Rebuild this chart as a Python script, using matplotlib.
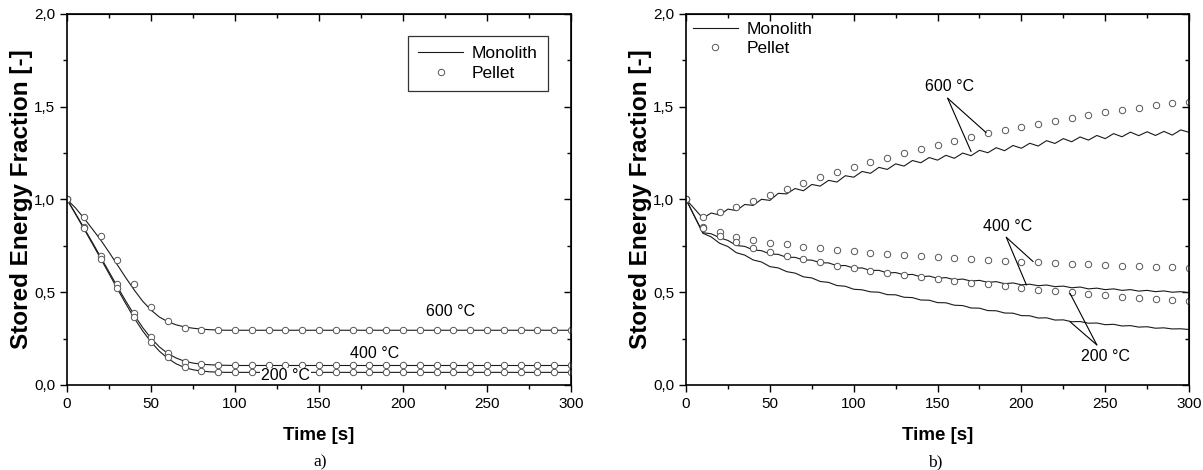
import matplotlib
matplotlib.use('Agg')
import matplotlib.pyplot as plt
from matplotlib.ticker import MultipleLocator, FuncFormatter
import numpy as np

plt.rcParams['font.family'] = ['Liberation Sans', 'DejaVu Sans']

# ---- data: panel a) -------------------------------------------------
t_pel = np.arange(0, 301, 10)
pel_a_600 = [1.0, 0.907, 0.803, 0.674, 0.543, 0.422, 0.345, 0.309, 0.296, 0.295,
             0.295, 0.295, 0.295, 0.295, 0.295, 0.295, 0.295, 0.295, 0.295, 0.295,
             0.295, 0.295, 0.295, 0.295, 0.295, 0.295, 0.295, 0.295, 0.295, 0.295, 0.295]
pel_a_400 = [1.0, 0.853, 0.695, 0.543, 0.386, 0.260, 0.171, 0.126, 0.113, 0.108,
             0.106, 0.105, 0.105, 0.105, 0.105, 0.105, 0.105, 0.105, 0.105, 0.105,
             0.105, 0.105, 0.105, 0.105, 0.105, 0.105, 0.105, 0.105, 0.105, 0.105, 0.105]
pel_a_200 = [1.0, 0.848, 0.681, 0.525, 0.365, 0.233, 0.153, 0.099, 0.077, 0.072,
             0.069, 0.068, 0.068, 0.068, 0.068, 0.068, 0.068, 0.068, 0.068, 0.068,
             0.068, 0.068, 0.068, 0.068, 0.068, 0.068, 0.068, 0.068, 0.068, 0.068, 0.068]

t_mono_a = [0, 5, 10, 15, 20, 25, 30, 35, 40, 45, 50, 55, 60, 65, 70, 75, 80, 85, 90, 95, 100, 300]
mono_a_600 = [1.0, 0.955, 0.900, 0.842, 0.782, 0.716, 0.647, 0.578, 0.512, 0.452, 0.404,
              0.366, 0.341, 0.324, 0.313, 0.306, 0.301, 0.298, 0.296, 0.295, 0.295, 0.295]
mono_a_400 = [1.0, 0.925, 0.848, 0.770, 0.690, 0.610, 0.530, 0.452, 0.378, 0.310, 0.252,
              0.205, 0.170, 0.145, 0.128, 0.118, 0.112, 0.109, 0.107, 0.106, 0.105, 0.105]
mono_a_200 = [1.0, 0.922, 0.843, 0.763, 0.682, 0.600, 0.518, 0.438, 0.361, 0.292, 0.232,
              0.182, 0.143, 0.114, 0.094, 0.082, 0.075, 0.071, 0.069, 0.068, 0.068, 0.068]

# ---- data: panel b) -------------------------------------------------
pel_b_600 = [1.0, 0.907, 0.934, 0.961, 0.994, 1.024, 1.057, 1.087, 1.120, 1.147,
             1.175, 1.202, 1.224, 1.249, 1.272, 1.294, 1.315, 1.337, 1.357, 1.373,
             1.389, 1.407, 1.425, 1.441, 1.456, 1.470, 1.482, 1.495, 1.508, 1.519, 1.527]
pel_b_400 = [1.0, 0.853, 0.826, 0.800, 0.782, 0.767, 0.758, 0.746, 0.737, 0.728,
             0.720, 0.714, 0.708, 0.702, 0.695, 0.688, 0.683, 0.679, 0.674, 0.668,
             0.665, 0.661, 0.656, 0.652, 0.651, 0.647, 0.643, 0.640, 0.636, 0.634, 0.631]
pel_b_200 = [1.0, 0.848, 0.805, 0.769, 0.740, 0.719, 0.697, 0.677, 0.661, 0.642,
             0.631, 0.616, 0.604, 0.592, 0.581, 0.570, 0.561, 0.552, 0.543, 0.534,
             0.521, 0.512, 0.507, 0.500, 0.491, 0.484, 0.476, 0.471, 0.464, 0.458, 0.453]

t_mono_b = np.arange(0, 301, 5)
mono_b_600 = [1.0, 0.950, 0.899, 0.927, 0.916, 0.948, 0.940, 0.973, 0.968, 1.001,
              0.995, 1.033, 1.030, 1.059, 1.047, 1.081, 1.072, 1.103, 1.094, 1.128,
              1.120, 1.151, 1.141, 1.173, 1.162, 1.192, 1.180, 1.210, 1.198, 1.226,
              1.212, 1.238, 1.222, 1.250, 1.236, 1.265, 1.252, 1.279, 1.263, 1.291,
              1.276, 1.303, 1.288, 1.317, 1.302, 1.328, 1.311, 1.337, 1.320, 1.345,
              1.328, 1.355, 1.338, 1.363, 1.344, 1.365, 1.345, 1.367, 1.347, 1.375, 1.362]
mono_b_400 = [1.0, 0.910, 0.821, 0.815, 0.794, 0.779, 0.752, 0.747, 0.728, 0.724,
              0.706, 0.704, 0.688, 0.688, 0.674, 0.673, 0.659, 0.658, 0.643, 0.644,
              0.630, 0.631, 0.617, 0.618, 0.604, 0.606, 0.594, 0.596, 0.583, 0.587,
              0.575, 0.579, 0.567, 0.571, 0.560, 0.564, 0.553, 0.557, 0.546, 0.550,
              0.540, 0.543, 0.535, 0.539, 0.530, 0.533, 0.524, 0.528, 0.518, 0.522,
              0.514, 0.518, 0.510, 0.514, 0.506, 0.510, 0.503, 0.507, 0.500, 0.503, 0.497]
mono_b_200 = [1.0, 0.909, 0.818, 0.798, 0.764, 0.746, 0.713, 0.700, 0.674, 0.663,
              0.638, 0.631, 0.611, 0.603, 0.583, 0.577, 0.558, 0.553, 0.536, 0.532,
              0.516, 0.513, 0.502, 0.500, 0.487, 0.486, 0.473, 0.471, 0.458, 0.457,
              0.444, 0.443, 0.430, 0.428, 0.415, 0.414, 0.401, 0.400, 0.388, 0.387,
              0.374, 0.373, 0.361, 0.362, 0.350, 0.351, 0.341, 0.342, 0.333, 0.334,
              0.325, 0.327, 0.318, 0.320, 0.312, 0.314, 0.306, 0.308, 0.302, 0.303, 0.299]

line_kw = dict(color='#1a1a1a', lw=0.8)
mark_kw = dict(ls='none', marker='o', ms=4.6, mfc='white', mec='#555555', mew=0.7)
comma = FuncFormatter(lambda v, p: f'{v:.1f}'.replace('.', ','))

fig = plt.figure(figsize=(12.03, 4.70), dpi=100)
ax_a = fig.add_axes([0.0557, 0.1809, 0.4190, 0.7894])
ax_b = fig.add_axes([0.5703, 0.1809, 0.4181, 0.7894])


def style(ax):
    ax.set_xlim(0, 300)
    ax.set_ylim(0, 2.0)
    ax.xaxis.set_major_locator(MultipleLocator(50))
    ax.xaxis.set_minor_locator(MultipleLocator(25))
    ax.yaxis.set_major_locator(MultipleLocator(0.5))
    ax.yaxis.set_minor_locator(MultipleLocator(0.25))
    ax.yaxis.set_major_formatter(comma)
    ax.tick_params(which='both', direction='out', labelsize=11, width=1.0)
    ax.tick_params(which='major', length=5)
    ax.tick_params(which='minor', length=3)
    for s in ax.spines.values():
        s.set_linewidth(1.2)
    top = ax.secondary_xaxis('top')
    top.xaxis.set_major_locator(MultipleLocator(50))
    top.xaxis.set_minor_locator(MultipleLocator(25))
    top.tick_params(which='both', direction='in', labeltop=False, width=1.0)
    top.tick_params(which='major', length=5)
    top.tick_params(which='minor', length=3)
    right = ax.secondary_yaxis('right')
    right.yaxis.set_major_locator(MultipleLocator(0.5))
    right.yaxis.set_minor_locator(MultipleLocator(0.25))
    right.tick_params(which='both', direction='in', labelright=False, width=1.0)
    right.tick_params(which='major', length=5)
    right.tick_params(which='minor', length=3)
    ax.set_xlabel('Time [s]', fontsize=13.5, fontweight='bold', labelpad=12)
    ax.set_ylabel('Stored Energy Fraction [-]', fontsize=17.5, fontweight='bold', labelpad=1)


# ---- panel a ----
ax = ax_a
ax.plot(t_mono_a, mono_a_600, **line_kw, label='Monolith')
ax.plot(t_mono_a, mono_a_400, **line_kw)
ax.plot(t_mono_a, mono_a_200, **line_kw)
ax.plot(t_pel, pel_a_600, **mark_kw, label='Pellet')
ax.plot(t_pel, pel_a_400, **mark_kw)
ax.plot(t_pel, pel_a_200, **mark_kw)
style(ax)
leg = ax.legend(loc='upper right', bbox_to_anchor=(0.972, 0.965), fontsize=12.5,
                frameon=True, fancybox=False, edgecolor='black', handlelength=2.6,
                borderpad=0.6, labelspacing=0.25, handletextpad=0.5)
leg.get_frame().set_linewidth(0.9)
ax.text(228, 0.395, '600 °C', ha='center', va='center', fontsize=11.5)
ax.text(183, 0.167, '400 °C', ha='center', va='center', fontsize=11.5)
ax.text(130, 0.05, '200 °C', ha='center', va='center', fontsize=11.5,
        bbox=dict(facecolor='white', edgecolor='none', pad=0.5))

# ---- panel b ----
ax = ax_b
ax.plot(t_mono_b, mono_b_600, **line_kw, label='Monolith')
ax.plot(t_mono_b, mono_b_400, **line_kw)
ax.plot(t_mono_b, mono_b_200, **line_kw)
ax.plot(t_pel, pel_b_600, **mark_kw, label='Pellet')
ax.plot(t_pel, pel_b_400, **mark_kw)
ax.plot(t_pel, pel_b_200, **mark_kw)
style(ax)
ax.legend(loc='upper left', bbox_to_anchor=(-0.014, 1.016), fontsize=12.5, frameon=False,
          handlelength=2.6, borderpad=0.3, labelspacing=0.2, handletextpad=0.5)

arr = dict(arrowstyle='-', lw=0.8, color='black', shrinkA=0, shrinkB=0)
ax.text(157, 1.607, '600 °C', ha='center', va='center', fontsize=11.5)
ax.annotate('', xy=(179, 1.36), xytext=(156, 1.546), arrowprops=arr)
ax.annotate('', xy=(170, 1.258), xytext=(156, 1.546), arrowprops=arr)
ax.text(192, 0.853, '400 °C', ha='center', va='center', fontsize=11.5)
ax.annotate('', xy=(207, 0.665), xytext=(191, 0.796), arrowprops=arr)
ax.annotate('', xy=(203, 0.539), xytext=(191, 0.796), arrowprops=arr)
ax.text(250, 0.153, '200 °C', ha='center', va='center', fontsize=11.5)
ax.annotate('', xy=(229, 0.494), xytext=(245, 0.216), arrowprops=arr)
ax.annotate('', xy=(229, 0.341), xytext=(245, 0.216), arrowprops=arr)

fig.text(0.266, 0.017, 'a)', ha='center', va='center', fontsize=12.5,
         family=['Liberation Serif', 'DejaVu Serif'])
fig.text(0.777, 0.017, 'b)', ha='center', va='center', fontsize=12.5,
         family=['Liberation Serif', 'DejaVu Serif'])

fig.savefig('out.png', dpi=100)
